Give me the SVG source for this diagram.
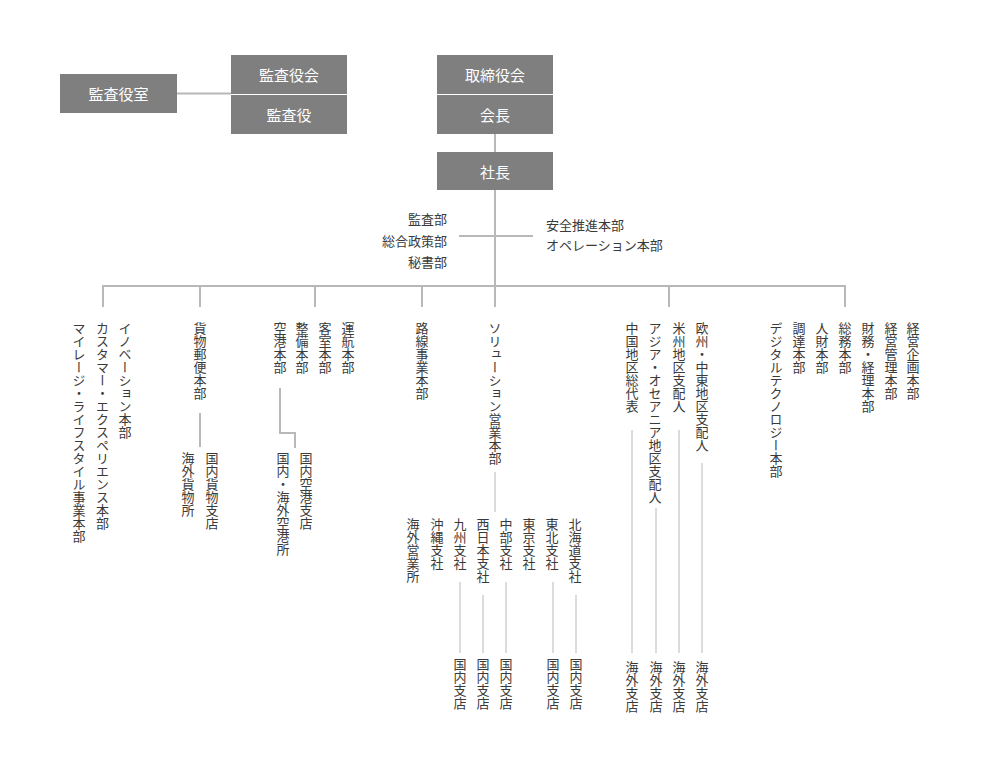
<svg xmlns="http://www.w3.org/2000/svg" width="988" height="772" viewBox="0 0 988 772">
<style>
text{font-family:"Noto Sans CJK JP","Noto Sans",sans-serif;}
.box{fill:#7f7f7f;}
.bt{fill:#ffffff;font-size:15px;text-anchor:middle;dominant-baseline:central;}
.t{fill:#3a3a3a;font-size:13px;}
.v{fill:#3a3a3a;font-size:13px;writing-mode:vertical-rl;}
.m{stroke:#b8b8b8;stroke-width:2;fill:none;}
.s{stroke:#b8b8b8;stroke-width:1;fill:none;}
</style>
<rect width="988" height="772" fill="#ffffff"/>
<g id="connectors">
<line class="m" x1="177" y1="93.5" x2="231" y2="93.5"/>
<line class="m" x1="495" y1="134" x2="495" y2="152"/>
<line class="m" x1="495" y1="190" x2="495" y2="286"/>
<line class="m" x1="459" y1="236" x2="533" y2="236"/>
<line class="m" x1="102" y1="286" x2="846" y2="286"/>
<line class="m" x1="103" y1="286" x2="103" y2="307"/>
<line class="m" x1="200" y1="286" x2="200" y2="307"/>
<line class="m" x1="315" y1="286" x2="315" y2="307"/>
<line class="m" x1="422" y1="286" x2="422" y2="307"/>
<line class="m" x1="495" y1="286" x2="495" y2="307"/>
<line class="m" x1="669" y1="286" x2="669" y2="307"/>
<line class="m" x1="845" y1="286" x2="845" y2="307"/>
<line class="m" x1="200" y1="413" x2="200" y2="447"/>
<polyline class="m" points="280,388 280,433 295,433 295,448"/>
<line class="s" x1="495" y1="472" x2="495" y2="512"/>
<line class="s" x1="460" y1="582" x2="460" y2="653"/>
<line class="s" x1="483" y1="595" x2="483" y2="653"/>
<line class="s" x1="506" y1="582" x2="506" y2="653"/>
<line class="s" x1="553" y1="582" x2="553" y2="653"/>
<line class="s" x1="576" y1="595" x2="576" y2="653"/>
<line class="s" x1="632" y1="430" x2="632" y2="653"/>
<line class="s" x1="656" y1="508" x2="656" y2="653"/>
<line class="s" x1="679" y1="430" x2="679" y2="653"/>
<line class="s" x1="702" y1="463" x2="702" y2="653"/>
</g>
<g id="kansayakushitsu"><rect class="box" x="60" y="74" width="117" height="39"/><text class="bt" x="118.5" y="93.5">監査役室</text></g>
<g id="kansayakukai"><rect class="box" x="231" y="55" width="116" height="39"/><text class="bt" x="289" y="74.5">監査役会</text></g>
<g id="kansayaku"><rect class="box" x="231" y="95" width="116" height="39"/><text class="bt" x="289" y="114.5">監査役</text></g>
<g id="torishimariyakukai"><rect class="box" x="437" y="55" width="116" height="39"/><text class="bt" x="495" y="74.5">取締役会</text></g>
<g id="kaicho"><rect class="box" x="437" y="95" width="116" height="39"/><text class="bt" x="495" y="114.5">会長</text></g>
<g id="shacho"><rect class="box" x="437" y="152" width="116" height="38"/><text class="bt" x="495" y="171">社長</text></g>
<g id="staff-left" class="t" text-anchor="end" dominant-baseline="central">
<text x="447" y="218">監査部</text>
<text x="447" y="240">総合政策部</text>
<text x="447" y="261">秘書部</text>
</g>
<g id="staff-right" dominant-baseline="central">
<text class="t" x="546" y="224">安全推進本部</text>
<text class="t" x="546" y="244">オペレーション本部</text>
</g>
<g id="col-a">
<text class="v" x="125" y="322">イノベーション本部</text>
<text class="v" x="102.5" y="322">カスタマー・エクスペリエンス本部</text>
<text class="v" x="79" y="322">マイレージ・ライフスタイル事業本部</text>
</g>
<g id="col-b">
<text class="v" x="200" y="322">貨物郵便本部</text>
<text class="v" x="212" y="452">国内貨物支店</text>
<text class="v" x="188" y="452">海外貨物所</text>
</g>
<g id="col-c">
<text class="v" x="348" y="322">運航本部</text>
<text class="v" x="325" y="322">客室本部</text>
<text class="v" x="302" y="322">整備本部</text>
<text class="v" x="280" y="322">空港本部</text>
<text class="v" x="306" y="452">国内空港支店</text>
<text class="v" x="283" y="452">国内・海外空港所</text>
</g>
<g id="col-d">
<text class="v" x="422" y="322">路線事業本部</text>
</g>
<g id="col-e">
<text class="v" x="495" y="322">ソリューション営業本部</text>
<text class="v" x="575" y="518">北海道支社</text>
<text class="v" x="552" y="518">東北支社</text>
<text class="v" x="529" y="518">東京支社</text>
<text class="v" x="506" y="518">中部支社</text>
<text class="v" x="483" y="518">西日本支社</text>
<text class="v" x="460" y="518">九州支社</text>
<text class="v" x="437" y="518">沖縄支社</text>
<text class="v" x="413" y="518">海外営業所</text>
<text class="v" x="460" y="658">国内支店</text>
<text class="v" x="483" y="658">国内支店</text>
<text class="v" x="506" y="658">国内支店</text>
<text class="v" x="553" y="658">国内支店</text>
<text class="v" x="576" y="658">国内支店</text>
</g>
<g id="col-f">
<text class="v" x="632" y="322">中国地区総代表</text>
<text class="v" x="655" y="322">アジア・オセアニア地区支配人</text>
<text class="v" x="679" y="322">米州地区支配人</text>
<text class="v" x="702" y="322">欧州・中東地区支配人</text>
<text class="v" x="632" y="661">海外支店</text>
<text class="v" x="656" y="661">海外支店</text>
<text class="v" x="679" y="661">海外支店</text>
<text class="v" x="702" y="661">海外支店</text>
</g>
<g id="col-g">
<text class="v" x="776" y="322">デジタルテクノロジー本部</text>
<text class="v" x="799" y="322">調達本部</text>
<text class="v" x="822" y="322">人財本部</text>
<text class="v" x="845" y="322">総務本部</text>
<text class="v" x="868" y="322">財務・経理本部</text>
<text class="v" x="891" y="322">経営管理本部</text>
<text class="v" x="913" y="322">経営企画本部</text>
</g>
</svg>
